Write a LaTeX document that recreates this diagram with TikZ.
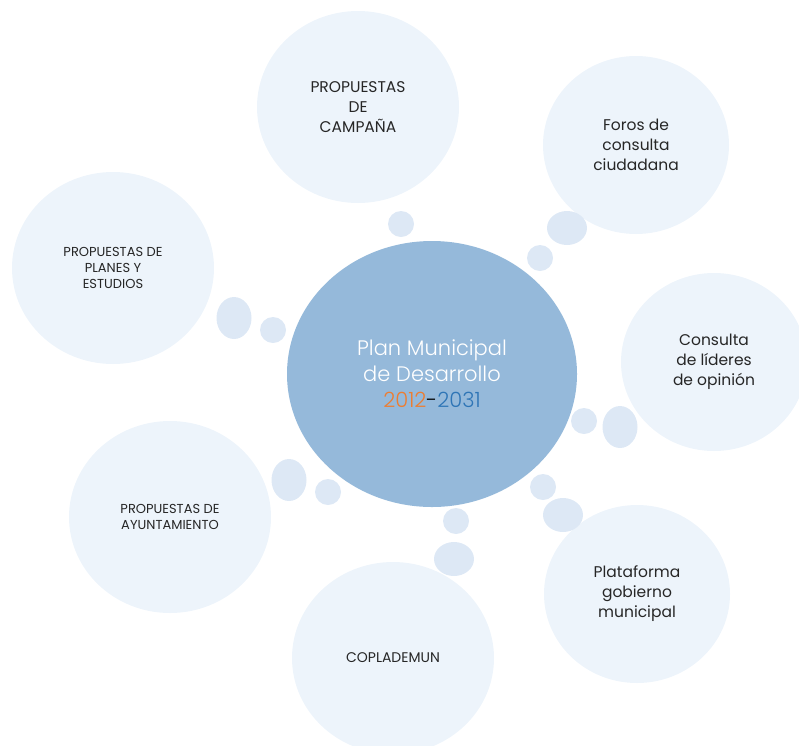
\documentclass[tikz,border=0pt]{standalone}
\usepackage{fontspec}
\setmainfont{Poppins}
\newfontfamily\duenn{Poppins Light}
\usetikzlibrary{shapes.geometric,positioning}
\definecolor{zentrumblau}{HTML}{95B9DA}
\definecolor{hellblau}{HTML}{EDF4FB}
\definecolor{blasenblau}{HTML}{DDE8F5}
\definecolor{naranja}{HTML}{ED7D31}
\definecolor{azul}{HTML}{2E75B6}
\definecolor{texto}{HTML}{262626}
\tikzset{
  kreis/.style={ellipse, fill=hellblau, inner sep=0pt, minimum width=202pt, minimum height=192pt,
    align=center, text=texto, font=\fontsize{13}{16}\selectfont},
  kreisgross/.style={kreis, font=\fontsize{15.5}{20}\selectfont},
  kreisklein/.style={kreis, minimum width=186pt, minimum height=178pt, font=\fontsize{15.5}{20}\selectfont},
  blase/.style={ellipse, fill=blasenblau, inner sep=0pt, minimum size=26pt},
  blaseoval/.style={blase, minimum width=40pt, minimum height=34pt},
  blasehoch/.style={blase, minimum width=35pt, minimum height=42pt},
}
\begin{document}
\begin{tikzpicture}[x=1pt,y=-1pt]
	\useasboundingbox (0,0) rectangle (799,745);
	\clip (0,0) rectangle (799,745);
	% Zentrum
		\node (plan) at (432,374) [ellipse, fill=zentrumblau, inner sep=0pt, minimum width=290pt, minimum height=266pt,
			align=center, text=white, font=\duenn\fontsize{21}{26}\selectfont]
			{Plan Municipal\\de Desarrollo\\{\color{naranja}2012}{\color{black}-}{\color{azul}2031}};
	% Kreise
		\node (campana) at (358,107) [kreisgross] {PROPUESTAS\\DE\\CAMPAÑA};
		\node (foros) at (636,145) [kreisklein] {Foros de\\consulta\\ciudadana};
		\node (planes) at (113,268) [kreis] {PROPUESTAS DE\\PLANES Y\\ESTUDIOS};
		\node (lideres) at (714,362) [kreisklein] {Consulta\\de líderes\\de opinión};
		\node (ayuntamiento) at (170,517) [kreis] {PROPUESTAS DE\\AYUNTAMIENTO};
		\node (plataforma) at (637,594) [kreisklein] {Plataforma\\gobierno\\municipal};
		\node (coplademun) at (393,658) [kreis, font=\fontsize{14}{16}\selectfont] {COPLADEMUN};
	% Blasen
		\node (bcampana) at (401,224) [blase] {};
		\node (bforos1) at (540,258) [blase] {};
		\node (bforos2) at (567,228) [blaseoval] {};
		\node (bplanes1) at (273,330) [blase] {};
		\node (bplanes2) at (234,318) [blasehoch] {};
		\node (blideres1) at (584,421) [blase] {};
		\node (blideres2) at (620,427) [blasehoch] {};
		\node (bayuntamiento1) at (328,492) [blase] {};
		\node (bayuntamiento2) at (289,480) [blasehoch] {};
		\node (bplataforma1) at (543,487) [blase] {};
		\node (bplataforma2) at (563,515) [blaseoval] {};
		\node (bcoplademun1) at (456,521) [blase] {};
		\node (bcoplademun2) at (454,559) [blaseoval] {};
\end{tikzpicture}
\end{document}
